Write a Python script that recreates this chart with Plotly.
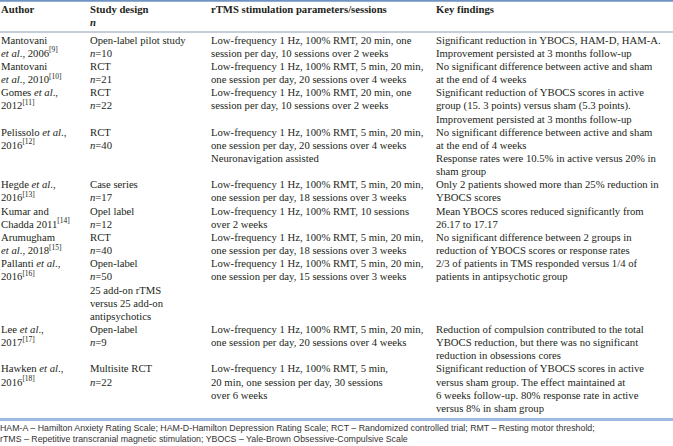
import plotly.graph_objects as go

# ---------------- data ----------------
headers = ["Author", "Study design", "rTMS stimulation parameters/sessions", "Key findings"]
header_sub = ["", "<i>n</i>", "", ""]

authors = [
    ["Mantovani", "<i>et al</i>., 2006<sup>[9]</sup>"],
    ["Mantovani", "<i>et al</i>., 2010<sup>[10]</sup>"],
    ["Gomes <i>et al</i>.,", "2012<sup>[11]</sup>"],
    ["Pelissolo <i>et al</i>.,", "2016<sup>[12]</sup>"],
    ["Hegde <i>et al</i>.,", "2016<sup>[13]</sup>"],
    ["Kumar and", "Chadda 2011<sup>[14]</sup>"],
    ["Arumugham", "<i>et al</i>., 2018<sup>[15]</sup>"],
    ["Pallanti <i>et al</i>.,", "2016<sup>[16]</sup>"],
    ["Lee <i>et al</i>.,", "2017<sup>[17]</sup>"],
    ["Hawken <i>et al</i>.,", "2016<sup>[18]</sup>"],
]

designs = [
    ["Open-label pilot study", "<i>n</i>=10"],
    ["RCT", "<i>n</i>=21"],
    ["RCT", "<i>n</i>=22"],
    ["RCT", "<i>n</i>=40"],
    ["Case series", "<i>n</i>=17"],
    ["Opel label", "<i>n</i>=12"],
    ["RCT", "<i>n</i>=40"],
    ["Open-label", "<i>n</i>=50", "25 add-on rTMS", "versus 25 add-on", "antipsychotics"],
    ["Open-label", "<i>n</i>=9"],
    ["Multisite RCT", "<i>n</i>=22"],
]

parameters = [
    ["Low-frequency 1 Hz, 100% RMT, 20 min, one", "session per day, 10 sessions over 2 weeks"],
    ["Low-frequency 1 Hz, 100% RMT, 5 min, 20 min,", "one session per day, 20 sessions over 4 weeks"],
    ["Low-frequency 1 Hz, 100% RMT, 20 min, one", "session per day, 10 sessions over 2 weeks"],
    ["Low-frequency 1 Hz, 100% RMT, 5 min, 20 min,", "one session per day, 20 sessions over 4 weeks",
     "Neuronavigation assisted"],
    ["Low-frequency 1 Hz, 100% RMT, 5 min, 20 min,", "one session per day, 18 sessions over 3 weeks"],
    ["Low-frequency 1 Hz, 100% RMT, 10 sessions", "over 2 weeks"],
    ["Low-frequency 1 Hz, 100% RMT, 5 min, 20 min,", "one session per day, 18 sessions over 3 weeks"],
    ["Low-frequency 1 Hz, 100% RMT, 5 min, 20 min,", "one session per day, 15 sessions over 3 weeks"],
    ["Low-frequency 1 Hz, 100% RMT, 5 min, 20 min,", "one session per day, 20 sessions over 4 weeks"],
    ["Low-frequency 1 Hz, 100% RMT, 5 min,", "20 min, one session per day, 30 sessions", "over 6 weeks"],
]

findings = [
    ["Significant reduction in YBOCS, HAM-D, HAM-A.", "Improvement persisted at 3 months follow-up"],
    ["No significant difference between active and sham", "at the end of 4 weeks"],
    ["Significant reduction of YBOCS scores in active", "group (15. 3 points) versus sham (5.3 points).",
     "Improvement persisted at 3 months follow-up"],
    ["No significant difference between active and sham", "at the end of 4 weeks",
     "Response rates were 10.5% in active versus 20% in", "sham group"],
    ["Only 2 patients showed more than 25% reduction in", "YBOCS scores"],
    ["Mean YBOCS scores reduced significantly from", "26.17 to 17.17"],
    ["No significant difference between 2 groups in", "reduction of YBOCS scores or response rates"],
    ["2/3 of patients in TMS responded versus 1/4 of", "patients in antipsychotic group"],
    ["Reduction of compulsion contributed to the total", "YBOCS reduction, but there was no significant",
     "reduction in obsessions cores"],
    ["Significant reduction of YBOCS scores in active", "versus sham group. The effect maintained at",
     "6 weeks follow-up. 80% response rate in active", "versus 8% in sham group"],
]

footnotes = [
    "HAM-A – Hamilton Anxiety Rating Scale; HAM-D-Hamilton Depression Rating Scale; RCT – Randomized controlled trial; RMT – Resting motor threshold;",
    "rTMS – Repetitive transcranial magnetic stimulation; YBOCS – Yale-Brown Obsessive-Compulsive Scale",
]

# ---------------- layout / style ----------------
W, H = 673, 446
col_x = [1, 90, 211, 436]
first_line_y = 41
line_step = 13.15
header_y = [10, 23]
font_body = dict(family="Liberation Serif, Times New Roman, serif", size=10.7, color="#231f20")
font_head = dict(family="Liberation Serif, Times New Roman, serif", size=10.7, color="#231f20")
font_foot = dict(family="Liberation Sans, Arial, sans-serif", size=8.8, color="#333333")

columns = [authors, designs, parameters, findings]

fig = go.Figure()

# line indices per row (rows stacked by their tallest cell)
row_start = []
k = 0
for r in range(len(authors)):
    row_start.append(k)
    k += max(len(c[r]) for c in columns)

for ci, col in enumerate(columns):
    xs, ys, ts = [], [], []
    for r, cell in enumerate(col):
        for li, line in enumerate(cell):
            xs.append(col_x[ci])
            ys.append(first_line_y + (row_start[r] + li) * line_step)
            ts.append(line)
    fig.add_trace(go.Scatter(x=xs, y=ys, text=ts, mode="text", textposition="middle right",
                             textfont=font_body, hoverinfo="skip", showlegend=False))

# header
hx, hy, ht = [], [], []
for ci, h in enumerate(headers):
    hx.append(col_x[ci]); hy.append(header_y[0]); ht.append("<b>" + h + "</b>")
    if header_sub[ci]:
        hx.append(col_x[ci]); hy.append(header_y[1]); ht.append("<b>" + header_sub[ci] + "</b>")
fig.add_trace(go.Scatter(x=hx, y=hy, text=ht, mode="text", textposition="middle right",
                         textfont=font_head, hoverinfo="skip", showlegend=False))

# footnotes
fig.add_trace(go.Scatter(x=[0, 0], y=[428.5, 440], text=footnotes, mode="text",
                         textposition="middle right", textfont=font_foot,
                         hoverinfo="skip", showlegend=False))

# rules
fig.add_shape(type="line", x0=0, x1=W, y0=0.8, y1=0.8, line=dict(color="#6f93c2", width=2))
fig.add_shape(type="line", x0=0, x1=W, y0=32, y1=32, line=dict(color="#8b9cb3", width=1))
fig.add_shape(type="line", x0=0, x1=W, y0=419.5, y1=419.5, line=dict(color="#9dbbe2", width=3))

fig.update_layout(
    width=W, height=H,
    margin=dict(l=0, r=0, t=0, b=0),
    paper_bgcolor="white", plot_bgcolor="white",
    xaxis=dict(range=[0, W], visible=False, fixedrange=True),
    yaxis=dict(range=[H, 0], visible=False, fixedrange=True),
)

fig.write_html("out.html", config={"displayModeBar": False},
               post_script="document.body.style.margin='0';document.body.style.overflow='hidden';")
